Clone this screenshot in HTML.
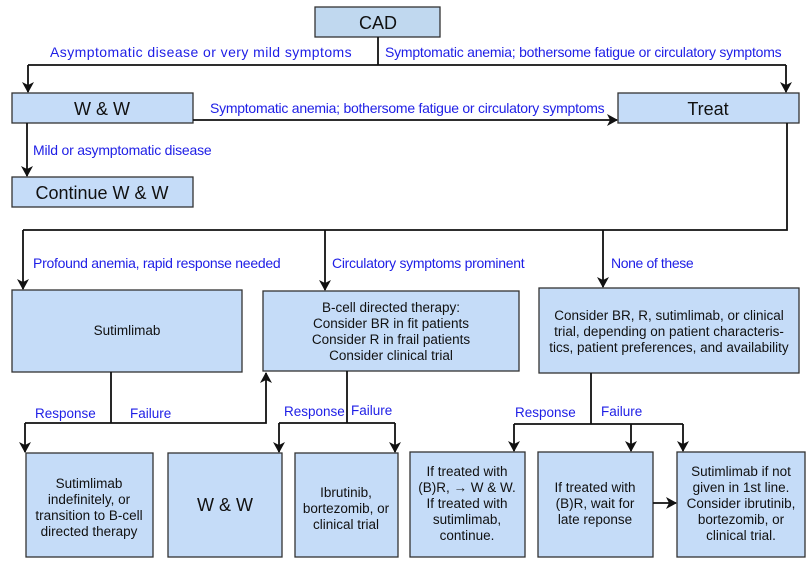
<!DOCTYPE html>
<html><head><meta charset="utf-8"><style>
html,body{margin:0;padding:0;background:#fff;}
svg{display:block;}
text{font-family:"Liberation Sans",Arial,sans-serif;}
.b{fill:#c5dcf8;stroke:#333;stroke-width:1.3;}
.l{stroke:#111;stroke-width:1.8;fill:none;}
.lb{fill:#1e1ee6;font-size:14px;letter-spacing:0.35px;}
.rf{letter-spacing:0;font-size:13.5px;}
.t{fill:#111;font-size:13.5px;text-anchor:middle;}
.h{fill:#111;font-size:18px;text-anchor:middle;}
</style></head><body>
<svg width="811" height="568" viewBox="0 0 811 568" xmlns="http://www.w3.org/2000/svg">
<defs><marker id="a" markerWidth="12" markerHeight="12" refX="10" refY="6" orient="auto" markerUnits="userSpaceOnUse"><path d="M0,0 L11,6 L0,12 L3,6 Z" fill="#111"/></marker></defs>
<rect x="315" y="7" width="125" height="30" class="b" style="fill:#c0d8ef"/>
<text x="378" y="29" class="h">CAD</text>
<rect x="12" y="93" width="181" height="30" class="b"/>
<text x="102" y="115" class="h">W &amp; W</text>
<rect x="618" y="93" width="181" height="30" class="b"/>
<text x="708" y="115" class="h">Treat</text>
<rect x="12" y="177" width="181" height="30" class="b"/>
<text x="102" y="199" class="h">Continue W &amp; W</text>
<rect x="12" y="290" width="230" height="82" class="b"/>
<text x="127" y="335" class="t">Sutimlimab</text>
<rect x="263" y="291" width="256" height="80" class="b"/>
<text x="391" y="312" class="t">B-cell directed therapy:</text>
<text x="391" y="328" class="t">Consider BR in fit patients</text>
<text x="391" y="344" class="t">Consider R in frail patients</text>
<text x="391" y="360" class="t">Consider clinical trial</text>
<rect x="539" y="288" width="260" height="85" class="b"/>
<text x="669" y="320" class="t">Consider BR, R, sutimlimab, or clinical</text>
<text x="669" y="336" class="t">trial, depending on patient characteris-</text>
<text x="669" y="352" class="t">tics, patient preferences, and availability</text>
<rect x="26" y="453" width="127" height="104" class="b"/>
<text x="89" y="488" class="t">Sutimlimab</text>
<text x="89" y="504" class="t">indefinitely, or</text>
<text x="89" y="520" class="t">transition to B-cell</text>
<text x="89" y="536" class="t">directed therapy</text>
<rect x="168" y="453" width="114" height="104" class="b"/>
<text x="225" y="511" class="h">W &amp; W</text>
<rect x="295" y="453" width="103" height="104" class="b"/>
<text x="346" y="497" class="t">Ibrutinib,</text>
<text x="346" y="513" class="t">bortezomib, or</text>
<text x="346" y="529" class="t">clinical trial</text>
<rect x="410" y="452" width="115" height="105" class="b"/>
<text x="467" y="476" class="t">If treated with</text>
<text x="467" y="492" class="t">(B)R, → W &amp; W.</text>
<text x="467" y="508" class="t">If treated with</text>
<text x="467" y="524" class="t">sutimlimab,</text>
<text x="467" y="540" class="t">continue.</text>
<rect x="538" y="452" width="115" height="105" class="b"/>
<text x="595" y="492" class="t">If treated with</text>
<text x="595" y="508" class="t">(B)R, wait for</text>
<text x="595" y="524" class="t">late reponse</text>
<rect x="677" y="452" width="128" height="105" class="b"/>
<text x="741" y="476" class="t">Sutimlimab if not</text>
<text x="741" y="492" class="t">given in 1st line.</text>
<text x="741" y="508" class="t">Consider ibrutinib,</text>
<text x="741" y="524" class="t">bortezomib, or</text>
<text x="741" y="540" class="t">clinical trial.</text>
<path class="l" d="M378,37 V65"/>
<path class="l" d="M28,65 H786"/>
<path class="l" d="M28,65 V92" marker-end="url(#a)"/>
<path class="l" d="M786,65 V92" marker-end="url(#a)"/>
<path class="l" d="M193,120 H617" marker-end="url(#a)"/>
<path class="l" d="M27,123 V176" marker-end="url(#a)"/>
<path class="l" d="M787,123 V230 H23"/>
<path class="l" d="M23,230 V289" marker-end="url(#a)"/>
<path class="l" d="M325,230 V290" marker-end="url(#a)"/>
<path class="l" d="M603,230 V287" marker-end="url(#a)"/>
<path class="l" d="M111,372 V423"/>
<path class="l" d="M25,423 H266 V373" marker-end="url(#a)"/>
<path class="l" d="M25,423 V452" marker-end="url(#a)"/>
<path class="l" d="M347,371 V423"/>
<path class="l" d="M279,423 H395"/>
<path class="l" d="M279,423 V452" marker-end="url(#a)"/>
<path class="l" d="M395,423 V452" marker-end="url(#a)"/>
<path class="l" d="M591,373 V424"/>
<path class="l" d="M514,424 H683"/>
<path class="l" d="M514,424 V451" marker-end="url(#a)"/>
<path class="l" d="M631,424 V451" marker-end="url(#a)"/>
<path class="l" d="M683,424 V451" marker-end="url(#a)"/>
<path class="l" d="M653,503 H676" marker-end="url(#a)"/>
<text x="50" y="57" class="lb" textLength="302" lengthAdjust="spacing">Asymptomatic disease or very mild symptoms</text>
<text x="385" y="57" class="lb" textLength="397" lengthAdjust="spacing">Symptomatic anemia; bothersome fatigue or circulatory symptoms</text>
<text x="210" y="113" class="lb" textLength="395" lengthAdjust="spacing">Symptomatic anemia; bothersome fatigue or circulatory symptoms</text>
<text x="33" y="155" class="lb" textLength="179" lengthAdjust="spacing">Mild or asymptomatic disease</text>
<text x="33" y="268" class="lb" textLength="248" lengthAdjust="spacing">Profound anemia, rapid response needed</text>
<text x="332" y="268" class="lb" textLength="193" lengthAdjust="spacing">Circulatory symptoms prominent</text>
<text x="611" y="268" class="lb" textLength="83" lengthAdjust="spacing">None of these</text>
<text x="35" y="418" class="lb rf">Response</text>
<text x="130" y="418" class="lb rf">Failure</text>
<text x="284" y="416" class="lb rf">Response</text>
<text x="351" y="415" class="lb rf">Failure</text>
<text x="515" y="417" class="lb rf">Response</text>
<text x="601" y="416" class="lb rf">Failure</text>
</svg>
</body></html>
